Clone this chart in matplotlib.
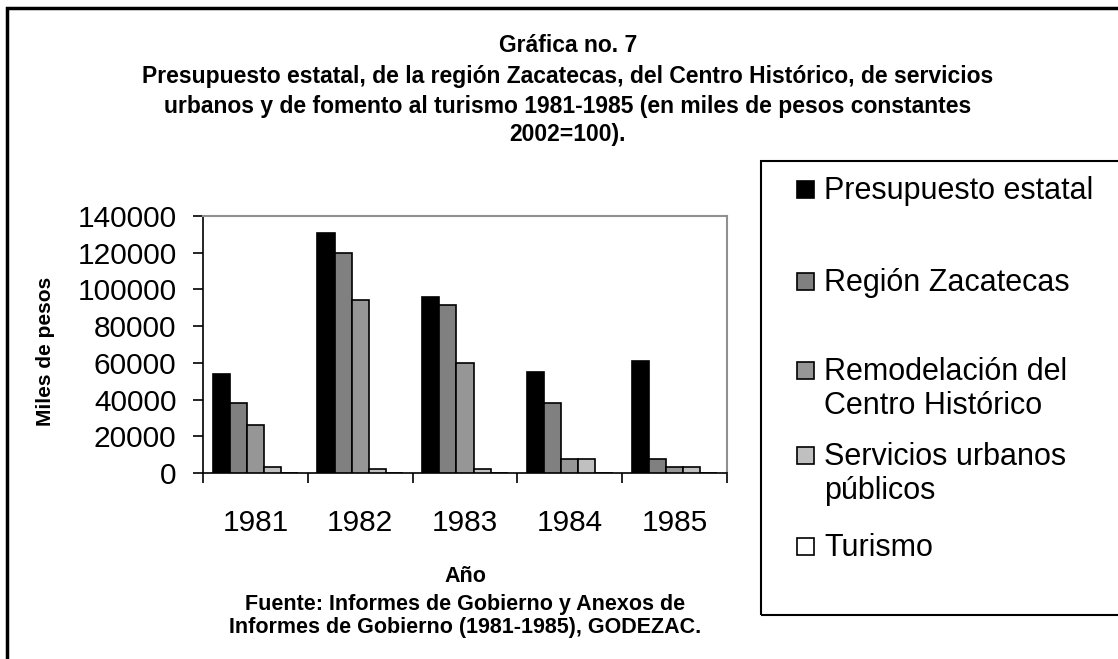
import numpy as np
import matplotlib
matplotlib.use("Agg")
import matplotlib.pyplot as plt
from matplotlib.patches import Rectangle

plt.rcParams['font.family'] = ['Liberation Sans', 'DejaVu Sans']

# -----------------------------
# Data (miles de pesos)
# -----------------------------
years = ['1981', '1982', '1983', '1984', '1985']
presupuesto = [54000, 131000, 96000, 55000, 61000]
region = [38000, 120000, 91500, 38000, 7800]
remodelacion = [26000, 94000, 60000, 7800, 3300]
servicios = [3300, 2000, 2000, 7800, 3300]
turismo = [0, 0, 0, 0, 0]

series_labels = ['Presupuesto estatal', 'Región Zacatecas',
                 'Remodelación del\nCentro Histórico',
                 'Servicios urbanos\npúblicos', 'Turismo']
series_colors = ['#000000', '#808080', '#969696', '#c0c0c0', '#ffffff']
series = [presupuesto, region, remodelacion, servicios, turismo]

W, H = 1118, 659
fig = plt.figure(figsize=(W / 100, H / 100), dpi=100)

def fx(px):
    return px / W

def fy(py):
    return 1 - py / H

# outer frame (only left/top edges fall inside the picture)
fig.patches.append(Rectangle((fx(7), fy(700)), fx(1200), fy(8) - fy(700),
                             transform=fig.transFigure, fill=False,
                             edgecolor='black', linewidth=2.5, zorder=0))

ax = fig.add_axes([fx(203), fy(473), fx(727) - fx(203), fy(216) - fy(473)])

x = np.arange(len(years))
bw = 0.163
for i, (vals, col) in enumerate(zip(series, series_colors)):
    ax.bar(x + (i - 2) * bw, vals, width=bw, color=col,
           edgecolor='black', linewidth=1.2, zorder=3)

ax.set_xlim(-0.5, len(years) - 0.5)
ax.set_ylim(0, 140000)
ax.set_yticks(np.arange(0, 140001, 20000))
ax.set_yticklabels([str(v) for v in range(0, 140001, 20000)], fontsize=21.5)
ax.tick_params(axis='y', direction='out', length=7, width=1.2, pad=12)

ax.set_xticks(x)
ax.set_xticklabels(years, fontsize=21.5)
ax.set_xticks(np.arange(-0.5, len(years)), minor=True)
ax.tick_params(axis='x', which='major', length=0, pad=26)
ax.tick_params(axis='x', which='minor', direction='out', length=7, width=1.2)

for s in ['top', 'right']:
    ax.spines[s].set_color('#909090')
    ax.spines[s].set_linewidth(1.5)
for s in ['left', 'bottom']:
    ax.spines[s].set_color('black')
    ax.spines[s].set_linewidth(1.2)

# titles (centred on the whole chart area, which runs past the right edge)
title_kw = dict(fontsize=16.5, fontweight='bold', ha='center', va='center')
tx = 568
fig.text(fx(tx), fy(46), 'Gráfica no. 7', **title_kw)
fig.text(fx(tx), fy(76), 'Presupuesto estatal, de la región Zacatecas, del Centro Histórico, de servicios', **title_kw)
fig.text(fx(tx), fy(106), 'urbanos y de fomento al turismo 1981-1985 (en miles de pesos constantes', **title_kw)
fig.text(fx(tx), fy(135), '2002=100).', **title_kw)

fig.text(fx(46), fy(351), 'Miles de pesos', rotation=90, fontsize=15,
         fontweight='bold', ha='center', va='center')
fig.text(fx(465), fy(576), 'Año', fontsize=15.5, fontweight='bold',
         ha='center', va='center')
fig.text(fx(465), fy(616), 'Fuente: Informes de Gobierno y Anexos de\nInformes de Gobierno (1981-1985), GODEZAC.',
         fontsize=15.5, fontweight='bold', ha='center', va='center',
         linespacing=1.15)

# legend box
fig.patches.append(Rectangle((fx(761), fy(615)), fx(1200) - fx(761), fy(161) - fy(615),
                             transform=fig.transFigure, fill=False,
                             edgecolor='black', linewidth=1.5, zorder=1))
entry_y = [190, 282, 371, 456, 547]
for lab, col, ey in zip(series_labels, series_colors, entry_y):
    fig.patches.append(Rectangle((fx(797), fy(ey + 8)), fx(17), fy(0) - fy(17),
                                 transform=fig.transFigure, facecolor=col,
                                 edgecolor='black', linewidth=1.2, zorder=2))
    fig.text(fx(824), fy(ey - 14), lab, fontsize=22, ha='left', va='top',
             linespacing=1.18)

fig.savefig('out.png', dpi=100)
